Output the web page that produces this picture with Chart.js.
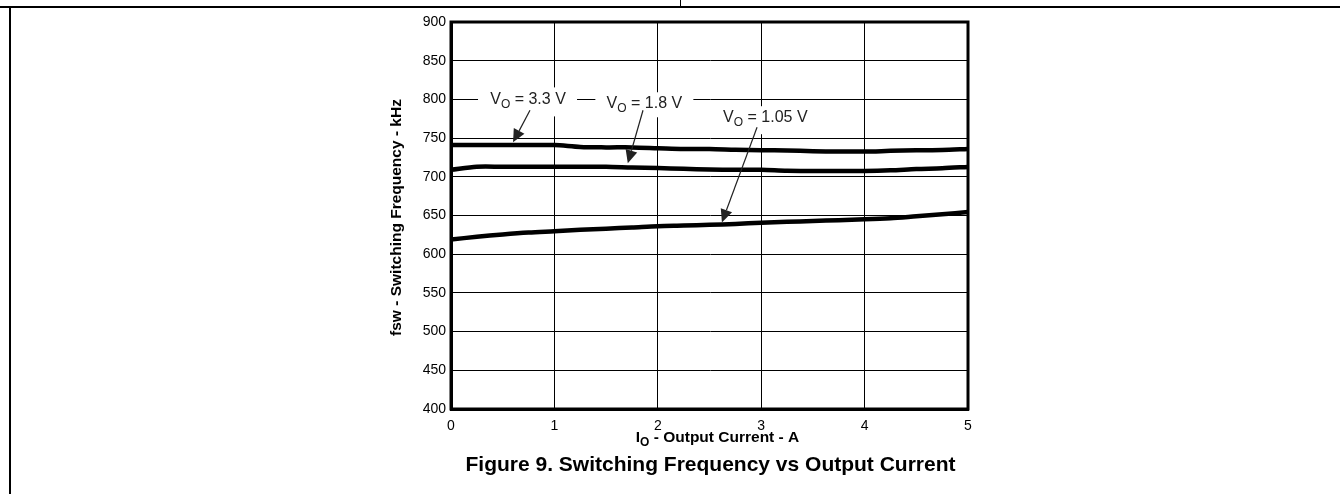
<!DOCTYPE html>
<html>
<head>
<meta charset="utf-8">
<script src="https://cdn.jsdelivr.net/npm/chart.js@4/dist/chart.umd.min.js"></script>
<style>
  html,body{margin:0;padding:0;background:#fff;}
  #wrap{position:relative;width:1340px;height:495px;overflow:hidden;}
  #topline{position:absolute;left:0;top:6px;width:1340px;height:2px;background:#000;}
  #midtick{position:absolute;left:680px;top:0;width:1px;height:7px;background:#000;}
  #leftline{position:absolute;left:9px;top:7px;width:2px;height:487px;background:#000;}
  canvas{position:absolute;left:0;top:0;}
</style>
</head>
<body>
<div id="wrap">
  <canvas id="c" width="1340" height="495"></canvas>
  <div id="topline"></div><div id="midtick"></div><div id="leftline"></div>
</div>
<script>
// ---- data ----
const currentA = [0, 0.25, 0.5, 0.75, 1, 1.25, 1.5, 1.75, 2, 2.25, 2.5, 2.75, 3, 3.25, 3.5, 3.75, 4, 4.25, 4.5, 4.75, 5];
const fsw33 = [741, 741, 741, 741, 741, 738.5, 738, 738, 737, 736, 736, 735, 734.3, 734, 733, 732.6, 732.6, 733.5, 734.3, 734.7, 736];
const fsw18 = [709, 713, 713, 713, 713, 713, 713, 712, 711.3, 710.3, 709.3, 709, 709, 707.8, 707.6, 707.6, 707.6, 708.4, 710, 711, 712.8];
const fsw105 = [619, 622.5, 625.5, 628, 629.7, 631.5, 633, 634.5, 636.2, 637, 638, 639, 640.7, 641.8, 642.8, 644, 645, 646.5, 649, 651.5, 654.5];
const xTicks = [0, 1, 2, 3, 4, 5];
const yTicks = [400, 450, 500, 550, 600, 650, 700, 750, 800, 850, 900];
const seriesLabels = ['3.3 V', '1.8 V', '1.05 V'];

const FONT = '"Liberation Sans", Arial, sans-serif';

function pts(vals){ return currentA.map((x,i)=>({x:x, y:vals[i]})); }

// annotation callouts (label centre, arrow start, arrow tip) in data units
const callouts = [
  {text: seriesLabels[0], lx: 0.745, ly: 800, box:[-50,-12,99,29], ax: 0.764, ay: 786, tx: 0.60, ty: 744.5},
  {text: seriesLabels[1], lx: 1.87, ly: 795, box:[-49,-11,98,25], ax: 1.857, ay: 786, tx: 1.71, ty: 717.5},
  {text: seriesLabels[2], lx: 3.04, ly: 777, box:[-50,-11,100,28], ax: 2.96, ay: 764, tx: 2.62, ty: 641}
];

function drawVLabel(ctx, text, cx, cy){
  const big = '16px ' + FONT, small = '12px ' + FONT;
  ctx.font = big; const wV = ctx.measureText('V').width;
  const rest = ' = ' + text;
  const wR = ctx.measureText(rest).width;
  ctx.font = small; const wO = ctx.measureText('O').width;
  const total = wV + wO + wR;
  let x = cx - total/2;
  ctx.fillStyle = '#222'; ctx.textBaseline = 'middle'; ctx.textAlign = 'left';
  ctx.font = big; ctx.fillText('V', x, cy); x += wV;
  ctx.font = small; ctx.fillText('O', x, cy + 5); x += wO;
  ctx.font = big; ctx.fillText(rest, x, cy);
}

function arrow(ctx, x1, y1, x2, y2){
  const ang = Math.atan2(y2-y1, x2-x1);
  const L = 13, W = 6;
  const bx = x2 - L*Math.cos(ang), by = y2 - L*Math.sin(ang);
  ctx.strokeStyle = '#222'; ctx.lineWidth = 1.2;
  ctx.beginPath(); ctx.moveTo(x1,y1); ctx.lineTo(bx,by); ctx.stroke();
  ctx.fillStyle = '#222';
  ctx.beginPath();
  ctx.moveTo(x2,y2);
  ctx.lineTo(bx + W*Math.sin(ang), by - W*Math.cos(ang));
  ctx.lineTo(bx - W*Math.sin(ang), by + W*Math.cos(ang));
  ctx.closePath(); ctx.fill();
}

const decor = {
  id: 'decor',
  afterDraw(chart){
    const ctx = chart.ctx, a = chart.chartArea;
    const xs = chart.scales.x, ys = chart.scales.y;
    ctx.save();
    // frame
    ctx.strokeStyle = '#000'; ctx.lineWidth = 3;
    ctx.strokeRect(a.left, a.top, a.right - a.left, a.bottom - a.top);
    // callouts
    callouts.forEach(c => {
      const cx = xs.getPixelForValue(c.lx), cy = ys.getPixelForValue(c.ly);
      ctx.fillStyle = '#fff';
      ctx.fillRect(cx + c.box[0], cy + c.box[1], c.box[2], c.box[3]);
      drawVLabel(ctx, c.text, cx, cy);
      arrow(ctx, xs.getPixelForValue(c.ax), ys.getPixelForValue(c.ay),
                 xs.getPixelForValue(c.tx), ys.getPixelForValue(c.ty));
    });
    // axis titles
    ctx.fillStyle = '#000';
    ctx.textBaseline = 'middle'; ctx.textAlign = 'center';
    ctx.save();
    ctx.translate(397, (a.top + a.bottom)/2 + 2);
    ctx.rotate(-Math.PI/2);
    ctx.font = 'bold 15.5px ' + FONT;
    ctx.fillText('fsw - Switching Frequency - kHz', 0, 0);
    ctx.restore();
    // x title with subscript
    const xc = (a.left + a.right)/2 + 8, xy = 438;
    const fb = 'bold 15.5px ' + FONT, fs = 'bold 12px ' + FONT;
    ctx.font = fb; const wI = ctx.measureText('I').width;
    const rest = ' - Output Current - A'; const wR = ctx.measureText(rest).width;
    ctx.font = fs; const wO = ctx.measureText('O').width;
    let x = xc - (wI + wO + wR)/2;
    ctx.textAlign = 'left';
    ctx.font = fb; ctx.fillText('I', x, xy); x += wI;
    ctx.font = fs; ctx.fillText('O', x, xy + 5); x += wO;
    ctx.font = fb; ctx.fillText(rest, x, xy);
    // caption
    ctx.textAlign = 'center';
    ctx.font = 'bold 21px ' + FONT;
    ctx.fillText('Figure 9. Switching Frequency vs Output Current', (a.left + a.right)/2 + 1, 465);
    ctx.restore();
  }
};

const lineStyle = {borderColor:'#000', borderWidth:4.5, pointRadius:0, tension:0.3, fill:false};

new Chart(document.getElementById('c'), {
  type: 'line',
  data: {
    datasets: [
      Object.assign({label:'VO = ' + seriesLabels[0], data: pts(fsw33)}, lineStyle),
      Object.assign({label:'VO = ' + seriesLabels[1], data: pts(fsw18)}, lineStyle),
      Object.assign({label:'VO = ' + seriesLabels[2], data: pts(fsw105)}, lineStyle)
    ]
  },
  options: {
    responsive: false,
    animation: false,
    devicePixelRatio: 1,
    layout: {padding: {left: 391, right: 372, top: 22, bottom: 56}},
    plugins: {legend: {display:false}, tooltip: {enabled:false}},
    scales: {
      x: {
        type: 'linear', min: 0, max: 5,
        afterFit: s => { s.height = 30; },
        afterBuildTicks: s => { s.ticks = xTicks.map(v => ({value: v})); },
        ticks: {color:'#000', font:{family:FONT, size:14}, padding:9, maxRotation:0},
        grid: {color:'#000', lineWidth:1, drawTicks:false},
        border: {display:true, color:'#000', width:3}
      },
      y: {
        min: 400, max: 900,
        afterFit: s => { s.width = 60; },
        afterBuildTicks: s => { s.ticks = yTicks.map(v => ({value: v})); },
        ticks: {color:'#000', font:{family:FONT, size:14}, padding:5},
        grid: {color:'#000', lineWidth:1, drawTicks:false},
        border: {display:true, color:'#000', width:3}
      }
    }
  },
  plugins: [decor]
});
</script>
</body>
</html>
